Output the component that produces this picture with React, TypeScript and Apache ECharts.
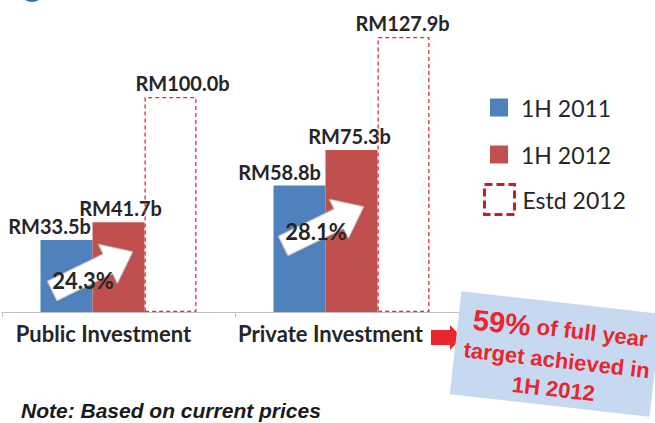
import React, { useEffect, useRef } from "react";
import * as echarts from "echarts";

const categories = ["Public Investment", "Private Investment"];
const seriesNames = ["1H 2011", "1H 2012", "Estd 2012"];
const values2011 = [33.5, 58.8];
const values2012 = [41.7, 75.3];
const valuesEstd = [100.0, 127.9];
const growthLabels = ["24.3%", "28.1%"];
const noteText = "Note: Based on current prices";
const calloutBig = "59%";
const calloutLine1 = " of full year";
const calloutLine2 = "target achieved in";
const calloutLine3 = "1H 2012";

// label horizontal nudges (style only)
const off2011 = [-17, -20];
const off2012 = [2, -2];
const offEstd = [12, -1];

const BLUE = "#4f81bd";
const RED = "#c0504d";
const DASH_RED = "#dc2e36";
const TXT = "#262626";
const LATO = "Lato, 'Open Sans', sans-serif";
const ARIAL = "'Liberation Sans', Arial, sans-serif";

const barLabel = {
  show: true,
  position: "top",
  distance: 4,
  formatter: (p: any) => `RM${Number(p.value).toFixed(1)}b`,
  fontFamily: LATO,
  fontWeight: "bold",
  fontSize: 20,
  color: TXT,
};

const deg = Math.PI / 180;

const arrowPts = [
  [0, -11],
  [62, -11],
  [62, -22],
  [90, 0],
  [62, 22],
  [62, 11],
  [0, 11],
];

function whiteArrow(x: number, y: number) {
  return {
    type: "group",
    x,
    y,
    rotation: 26 * deg,
    z: 100,
    children: [
      {
        type: "polygon",
        shape: { points: arrowPts },
        style: {
          fill: "#ffffff",
          stroke: "#b0b0b0",
          lineWidth: 0.8,
          shadowBlur: 2,
          shadowColor: "rgba(0,0,0,0.25)",
        },
        z: 100,
      },
    ],
  };
}

export default function App() {
  const ref = useRef<HTMLDivElement>(null);

  useEffect(() => {
    document.body.style.margin = "0";
    if (!ref.current) return;
    const chart = echarts.init(ref.current, undefined, { renderer: "svg" });

    const catRich = (pad: number) => ({
      fontFamily: LATO,
      fontWeight: "bold",
      fontSize: 22,
      color: TXT,
      padding: [0, pad, 0, 0],
    });

    const option: any = {
      animation: false,
      backgroundColor: "#ffffff",
      grid: { left: 2, right: 187, top: 11, bottom: 111, containLabel: false },
      xAxis: {
        type: "category",
        data: categories,
        axisLine: { show: true, lineStyle: { color: "#bfbfbf", width: 1 } },
        axisTick: { show: true, length: 5, lineStyle: { color: "#bfbfbf" } },
        axisLabel: {
          interval: 0,
          margin: 10,
          formatter: (v: string, i: number) => `{c${i}|${v}}`,
          rich: { c0: catRich(30), c1: catRich(42) },
        },
      },
      yAxis: { type: "value", min: 0, max: 140, show: false, splitLine: { show: false } },
      legend: [
        {
          orient: "vertical",
          left: 490,
          top: 96,
          padding: 0,
          itemWidth: 18,
          itemHeight: 18,
          itemGap: 24,
          selectedMode: false,
          icon: "rect",
          data: [seriesNames[0], seriesNames[1]],
          textStyle: { fontFamily: LATO, fontSize: 23, color: TXT, padding: [0, 0, 0, 8] },
        },
        {
          orient: "vertical",
          left: 483,
          top: 183,
          padding: 0,
          itemWidth: 30,
          itemHeight: 30,
          selectedMode: false,
          icon: "rect",
          data: [
            {
              name: seriesNames[2],
              itemStyle: {
                color: "rgba(255,255,255,0)",
                borderColor: "#c0202a",
                borderWidth: 3,
                borderType: [8, 4],
              },
            },
          ],
          textStyle: { fontFamily: LATO, fontSize: 23, color: TXT, padding: [0, 0, 0, 3] },
        },
      ],
      series: [
        {
          name: seriesNames[0],
          type: "bar",
          barWidth: 52,
          barGap: "0%",
          itemStyle: { color: BLUE },
          label: barLabel,
          data: values2011.map((v, i) => ({ value: v, label: { offset: [off2011[i], 0] } })),
        },
        {
          name: seriesNames[1],
          type: "bar",
          barWidth: 52,
          barGap: "0%",
          itemStyle: { color: RED },
          label: barLabel,
          data: values2012.map((v, i) => ({ value: v, label: { offset: [off2012[i], 0] } })),
        },
        {
          name: seriesNames[2],
          type: "bar",
          barWidth: 52,
          barGap: "0%",
          z: 3,
          itemStyle: {
            color: "rgba(255,255,255,0)",
            borderColor: DASH_RED,
            borderWidth: 1.3,
            borderType: [4, 3],
          },
          label: barLabel,
          data: valuesEstd.map((v, i) => ({ value: v, label: { offset: [offEstd[i], 0] } })),
        },
      ],
      graphic: [
        {
          type: "circle",
          shape: { cx: 32, cy: -12, r: 14 },
          style: { fill: "#1b75bc" },
          z: 100,
        },
        whiteArrow(52, 291),
        whiteArrow(283, 246),
        {
          type: "text",
          x: 83,
          y: 280,
          z: 101,
          style: {
            text: growthLabels[0],
            fontFamily: LATO,
            fontWeight: "bold",
            fontSize: 22,
            fill: TXT,
            align: "center",
            verticalAlign: "middle",
          },
        },
        {
          type: "text",
          x: 316,
          y: 231,
          z: 101,
          style: {
            text: growthLabels[1],
            fontFamily: LATO,
            fontWeight: "bold",
            fontSize: 22,
            fill: TXT,
            align: "center",
            verticalAlign: "middle",
          },
        },
        {
          type: "polygon",
          z: 100,
          shape: {
            points: [
              [431, 330],
              [450, 330],
              [450, 325],
              [462, 337.5],
              [450, 350],
              [450, 345],
              [431, 345],
            ],
          },
          style: { fill: "#e8262b" },
        },
        {
          type: "group",
          x: 555.5,
          y: 354,
          rotation: -6.5 * deg,
          z: 110,
          children: [
            {
              type: "rect",
              shape: { x: -100.5, y: -51.8, width: 201, height: 103.6 },
              style: { fill: "#c6d9f1" },
              z: 110,
            },
            {
              type: "text",
              x: 2,
              y: 4,
              z: 111,
              style: {
                text: `{a|${calloutBig}}{b|${calloutLine1}}\n{c|${calloutLine2}}\n{c|${calloutLine3}}`,
                align: "center",
                verticalAlign: "middle",
                rich: {
                  a: { fontFamily: ARIAL, fontWeight: "bold", fontSize: 29, fill: "#e8262b", lineHeight: 33 },
                  b: { fontFamily: ARIAL, fontWeight: "bold", fontSize: 22, fill: "#e8262b", lineHeight: 33 },
                  c: { fontFamily: ARIAL, fontWeight: "bold", fontSize: 22, fill: "#e8262b", lineHeight: 29, align: "center" },
                },
              },
            },
          ],
        },
        {
          type: "text",
          x: 21,
          y: 410,
          z: 100,
          style: {
            text: noteText,
            fontFamily: ARIAL,
            fontWeight: "bold",
            fontStyle: "italic",
            fontSize: 21,
            fill: "#1a1a1a",
            align: "left",
            verticalAlign: "middle",
          },
        },
      ],
    };

    chart.setOption(option);
    return () => chart.dispose();
  }, []);

  return <div ref={ref} style={{ width: 655, height: 423 }} />;
}
